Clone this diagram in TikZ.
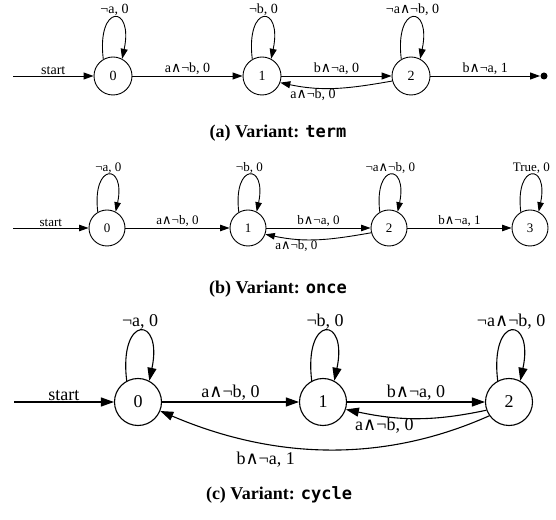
\documentclass[tikz,border=0pt]{standalone}
\usepackage{fontspec}
\setmainfont{Liberation Serif}
\newfontfamily\wedgefont{DejaVu Sans}
\newfontfamily\codefont{DejaVu Sans Mono}
\usetikzlibrary{arrows.meta}
\newcommand\AND{{\wedgefont ∧}}

\tikzset{
  state/.style={circle, draw, inner sep=0pt, minimum size=#1},
  wire/.style={->},
  lbl/.style={inner sep=1pt},
  dot/.style={circle, fill, inner sep=0pt, minimum size=7pt},
  caption/.style={font=\fontsize{18}{20}\selectfont\bfseries},
  panelA/.style={font=\fontsize{14}{16}\selectfont, line width=0.9pt,
    >={Triangle[length=10pt,width=7pt]}},
  panelB/.style={font=\fontsize{13}{15}\selectfont, line width=0.9pt,
    >={Triangle[length=9.5pt,width=6.5pt]}},
  panelC/.style={font=\fontsize{18}{20}\selectfont, line width=1.1pt,
    >={Triangle[length=13pt,width=9pt]}},
}

\begin{document}
\begin{tikzpicture}[x=1pt,y=1pt]
\useasboundingbox (0,0) rectangle (556,519);

% ---------- (a) term ----------
\begin{scope}[panelA]
  \coordinate (astart) at (13,443);
  \node[state=38pt] (a0) at (113,443) {0};
  \node[state=38pt] (a1) at (262,443) {1};
  \node[state=38pt] (a2) at (411,443) {2};
  \node[dot] (aend) at (544,443) {};
  \draw[wire] (astart) -- node[lbl,above]{start} (a0);
  \draw[wire] (a0) -- node[lbl,above]{a\AND¬b, 0} (a1);
  \draw[wire] (a1) -- node[lbl,above]{b\AND¬a, 0} (a2);
  \draw[wire] (a2.195) to[out=190,in=-12] node[lbl,below,pos=0.72]{a\AND¬b, 0} (a1.-20);
  \draw[wire] (a2) -- node[lbl,above]{b\AND¬a, 1} (aend);
  \draw[wire] (a0.120) .. controls +(97:56) and +(78:56) .. node[lbl,above]{¬a, 0} (a0.62);
  \draw[wire] (a1.120) .. controls +(97:56) and +(78:56) .. node[lbl,above]{¬b, 0} (a1.62);
  \draw[wire] (a2.120) .. controls +(97:56) and +(78:56) .. node[lbl,above]{¬a\AND¬b, 0} (a2.62);
\end{scope}
\node[caption] (capA) at (278,386) {(a) Variant: {\codefont\bfseries\fontsize{17}{20}\selectfont term}};

% ---------- (b) once ----------
\begin{scope}[panelB]
  \coordinate (bstart) at (13,291);
  \node[state=36pt] (b0) at (107,291) {0};
  \node[state=36pt] (b1) at (248,291) {1};
  \node[state=36pt] (b2) at (389,291) {2};
  \node[state=36pt] (b3) at (530,291) {3};
  \draw[wire] (bstart) -- node[lbl,above]{start} (b0);
  \draw[wire] (b0) -- node[lbl,above]{a\AND¬b, 0} (b1);
  \draw[wire] (b1) -- node[lbl,above]{b\AND¬a, 0} (b2);
  \draw[wire] (b2.195) to[out=190,in=-12] node[lbl,below,pos=0.72]{a\AND¬b, 0} (b1.-20);
  \draw[wire] (b2) -- node[lbl,above]{b\AND¬a, 1} (b3);
  \draw[wire] (b0.120) .. controls +(97:50) and +(78:50) .. node[lbl,above]{¬a, 0} (b0.62);
  \draw[wire] (b1.120) .. controls +(97:50) and +(78:50) .. node[lbl,above]{¬b, 0} (b1.62);
  \draw[wire] (b2.120) .. controls +(97:50) and +(78:50) .. node[lbl,above]{¬a\AND¬b, 0} (b2.62);
  \draw[wire] (b3.120) .. controls +(97:50) and +(78:50) .. node[lbl,above]{True, 0} (b3.62);
\end{scope}
\node[caption] (capB) at (278,230) {(b) Variant: {\codefont\bfseries\fontsize{17}{20}\selectfont once}};

% ---------- (c) cycle ----------
\begin{scope}[panelC]
  \coordinate (cstart) at (14,117);
  \node[state=47pt] (c0) at (138,117) {0};
  \node[state=47pt] (c1) at (323,117) {1};
  \node[state=47pt] (c2) at (509,117) {2};
  \draw[wire] (cstart) -- node[lbl,above]{start} (c0);
  \draw[wire] (c0) -- node[lbl,above]{a\AND¬b, 0} (c1);
  \draw[wire] (c1) -- node[lbl,above]{b\AND¬a, 0} (c2);
  \draw[wire] (c2.200) to[out=192,in=-12] node[lbl,below,pos=0.74]{a\AND¬b, 0} (c1.-18);
  \draw[wire] (c2.215) .. controls +(-110,-49) and +(110,-47) .. node[lbl,below=7pt,pos=0.68]{b\AND¬a, 1} (c0.-22);
  \draw[wire] (c0.118) .. controls +(97:67) and +(78:67) .. node[lbl,above]{¬a, 0} (c0.62);
  \draw[wire] (c1.118) .. controls +(97:67) and +(78:67) .. node[lbl,above]{¬b, 0} (c1.62);
  \draw[wire] (c2.118) .. controls +(97:67) and +(78:67) .. node[lbl,above]{¬a\AND¬b, 0} (c2.62);
\end{scope}
\node[caption] (capC) at (279,24) {(c) Variant: {\codefont\bfseries\fontsize{17}{20}\selectfont cycle}};
\end{tikzpicture}
\end{document}
